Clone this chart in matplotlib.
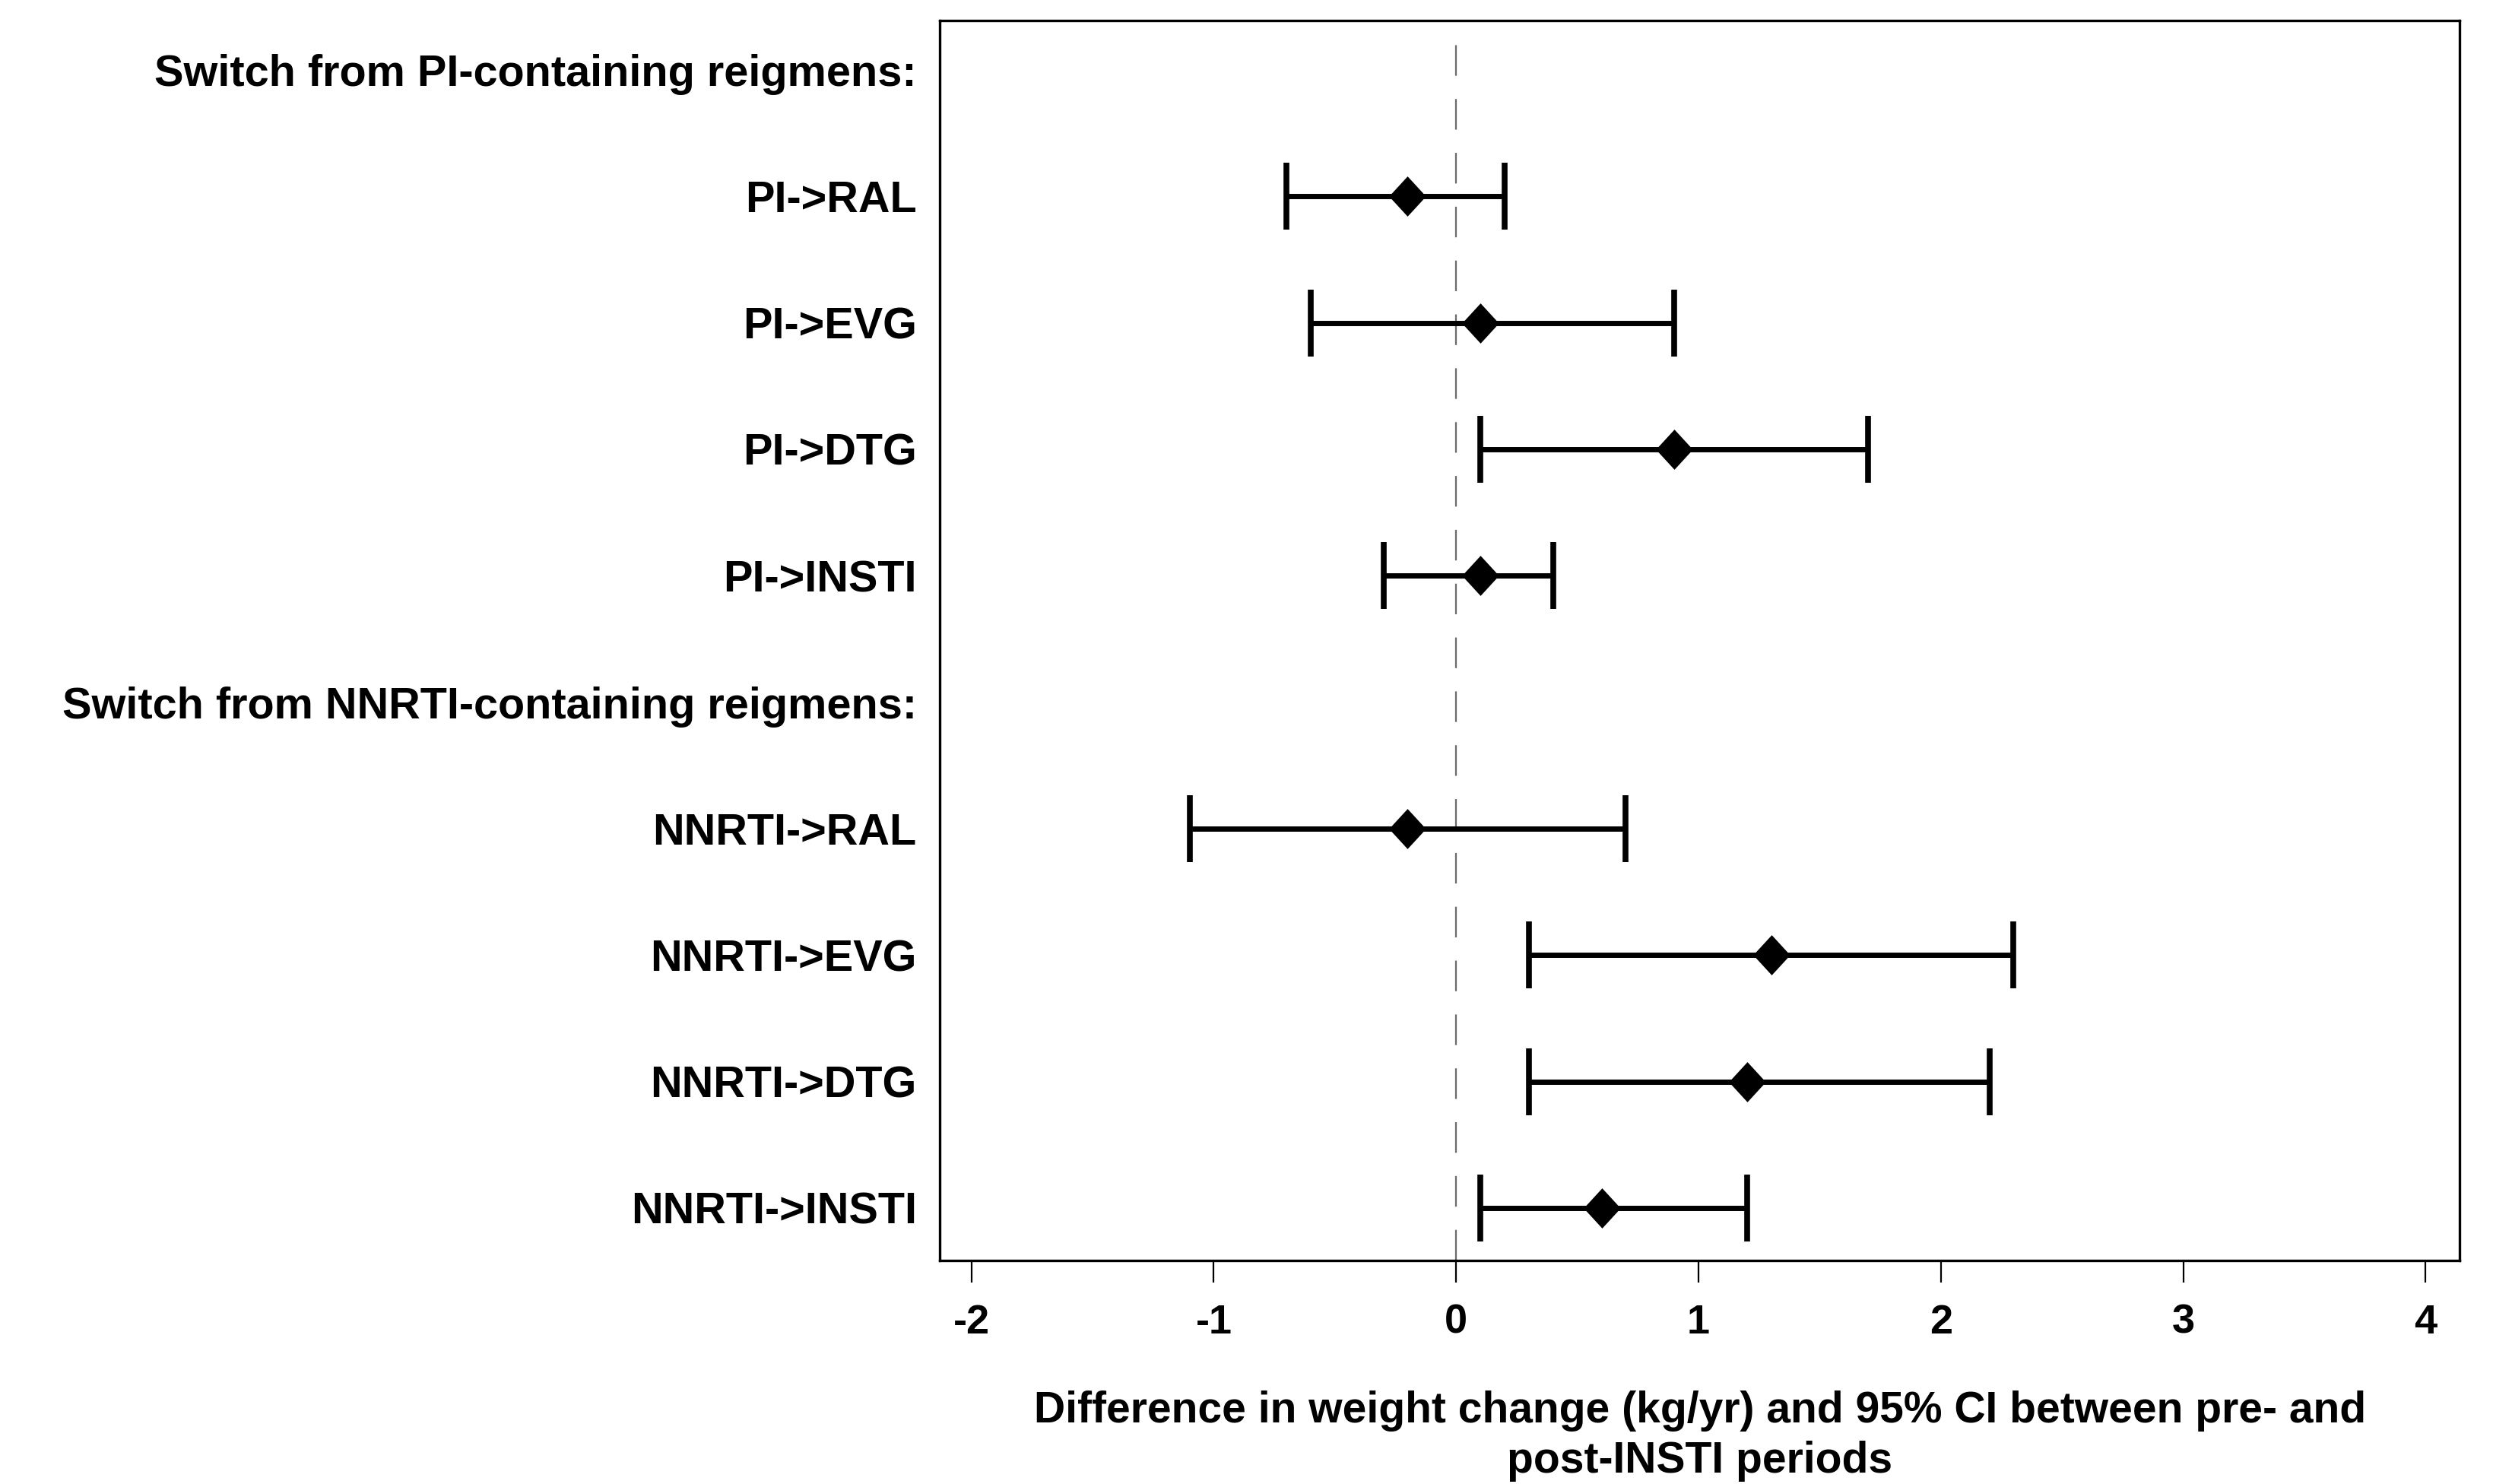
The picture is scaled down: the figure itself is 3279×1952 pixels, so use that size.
import matplotlib
matplotlib.use("Agg")
import matplotlib.pyplot as plt
import numpy as np

plt.rcParams['font.family'] = ['Liberation Sans', 'DejaVu Sans']
plt.rcParams['font.weight'] = 'bold'
plt.rcParams['lines.scale_dashes'] = False

# Rows, top to bottom (headers have no estimate)
row_labels = [
    "Switch from PI-containing reigmens:",
    "PI->RAL", "PI->EVG", "PI->DTG", "PI->INSTI",
    "Switch from NNRTI-containing reigmens:",
    "NNRTI->RAL", "NNRTI->EVG", "NNRTI->DTG", "NNRTI->INSTI",
]
group_labels = ["PI->RAL", "PI->EVG", "PI->DTG", "PI->INSTI",
                "NNRTI->RAL", "NNRTI->EVG", "NNRTI->DTG", "NNRTI->INSTI"]
estimate = [-0.2, 0.1, 0.9, 0.1, -0.2, 1.3, 1.2, 0.6]
ci_low   = [-0.7, -0.6, 0.1, -0.3, -1.1, 0.3, 0.3, 0.1]
ci_high  = [0.2, 0.9, 1.7, 0.4, 0.7, 2.3, 2.2, 1.2]
x_ticks = [-2, -1, 0, 1, 2, 3, 4]
x_label = "Difference in weight change (kg/yr) and 95% CI between pre- and\npost-INSTI periods"

fig = plt.figure(figsize=(32.79, 19.52), dpi=100)
ax = fig.add_axes([0.377, 0.1506, 0.6096, 0.8356])

ypos = [row_labels.index(g) for g in group_labels]
est = np.array(estimate)
lo = np.array(ci_low)
hi = np.array(ci_high)

ax.axvline(0, color='#6a6a6a', lw=1.6, dashes=(29, 22), zorder=1)

diamond = [(0, 1), (0.92, 0), (0, -1), (-0.92, 0), (0, 1)]
ax.errorbar(est, ypos, xerr=[est - lo, hi - est], fmt='none',
            ecolor='black', elinewidth=5, capsize=32, capthick=5.5, zorder=2)
ax.plot(est, ypos, linestyle='none', marker=diamond, markersize=38,
        color='black', markeredgewidth=0, zorder=3)

ax.set_xlim(-2.13, 4.14)
ax.set_ylim(9.415, -0.39)
ax.set_xticks(x_ticks)
ax.set_xticklabels([str(t) for t in x_ticks], fontsize=39, fontweight='bold')
ax.set_yticks(range(len(row_labels)))
ax.set_yticklabels(row_labels, fontsize=41.5, fontweight='bold')
ax.tick_params(axis='y', length=0, pad=22)
ax.tick_params(axis='x', direction='out', length=21, width=1.6, pad=20)
for s in ax.spines.values():
    s.set_linewidth(2.4)
ax.set_xlabel(x_label, fontsize=41, fontweight='bold', labelpad=46, linespacing=1.3)

fig.savefig("out.png", dpi=100, facecolor='white')
